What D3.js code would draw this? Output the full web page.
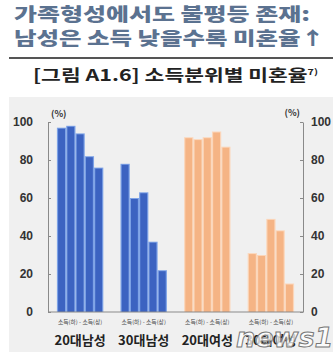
<!DOCTYPE html>
<html>
<head>
<meta charset="utf-8">
<script src="https://cdn.jsdelivr.net/npm/d3@7"></script>
<style>
  body { margin: 0; background: #fff; }
  svg { display: block; font-family: 'Noto Sans CJK KR', 'Noto Sans', sans-serif; }
</style>
</head>
<body>
<svg width="333" height="354"></svg>
<script>
// values
var groups = ['20대남성', '30대남성', '20대여성', '30대여성'];
var quintiles = ['q1', 'q2', 'q3', 'q4', 'q5'];
var men20 = [97, 98, 94, 82, 76];
var men30 = [78, 60, 63, 37, 22];
var women20 = [92, 91, 92, 95, 87];
var women30 = [31, 30, 49, 43, 15];
var yTicks = [0, 20, 40, 60, 80, 100];
var subLabel = '소득(하) - 소득(상)';

var series = [men20, men30, women20, women30];
var palette = {
    blue: '#3c63c1', blueEdge: '#7da2e6',
    orange: '#f5b485', orangeEdge: '#fbd6ba'
};

var svg = d3.select('svg');

// headline
svg.append('text')
    .attr('x', 14).attr('y', 21)
    .attr('textLength', 296).attr('lengthAdjust', 'spacingAndGlyphs')
    .style('font-size', '18px').style('font-weight', 900)
    .style('fill', '#5b7290')
    .text('가족형성에서도 불평등 존재:');
svg.append('text')
    .attr('x', 14).attr('y', 45)
    .attr('textLength', 311).attr('lengthAdjust', 'spacingAndGlyphs')
    .style('font-size', '18px').style('font-weight', 900)
    .style('fill', '#5b7290')
    .text('남성은 소득 낮을수록 미혼율↑');

svg.append('line')
    .attr('x1', 9).attr('x2', 333)
    .attr('y1', 58).attr('y2', 58)
    .style('stroke', '#555').style('stroke-width', 2);

var sub = svg.append('text')
    .attr('x', 33).attr('y', 81)
    .attr('textLength', 285).attr('lengthAdjust', 'spacingAndGlyphs')
    .style('font-size', '16px').style('font-weight', 'bold')
    .style('fill', '#222');
sub.append('tspan').text('[그림 A1.6] 소득분위별 미혼율');
sub.append('tspan').attr('dy', -6).style('font-size', '8px').text('7)');

// chart panel
svg.append('rect')
    .attr('x', 9).attr('y', 97)
    .attr('width', 324).attr('height', 255)
    .style('fill', '#f0f0f0');

var left = 48, right = 303;

var y = d3.scaleLinear()
    .domain([0, 100])
    .range([312, 122]);

var x = d3.scaleBand()
    .domain(groups)
    .range([left, right])
    .paddingInner(0.27)
    .paddingOuter(0.14);

var xInner = d3.scaleBand()
    .domain(quintiles)
    .range([0, x.bandwidth()]);

var g = svg.append('g');

groups.forEach(function(name, i) {
    var isMen = i < 2;
    var cell = g.append('g')
        .attr('transform', 'translate(' + x(name) + ',0)');

    var bars = cell.selectAll('g.bar')
        .data(series[i])
        .enter().append('g')
        .attr('class', 'bar');

    bars.append('rect')
        .attr('x', function(d, j) { return xInner(quintiles[j]); })
        .attr('y', function(d) { return y(d); })
        .attr('width', xInner.bandwidth())
        .attr('height', function(d) { return y(0) - y(d); })
        .style('fill', isMen ? palette.blueEdge : palette.orangeEdge);

    bars.append('rect')
        .attr('x', function(d, j) { return xInner(quintiles[j]) + 1.2; })
        .attr('y', function(d) { return y(d) + 1; })
        .attr('width', xInner.bandwidth() - 2.4)
        .attr('height', function(d) { return y(0) - y(d) - 1; })
        .style('fill', isMen ? palette.blue : palette.orange);

    cell.append('text')
        .attr('x', x.bandwidth() / 2).attr('y', 324)
        .attr('text-anchor', 'middle')
        .attr('textLength', x.bandwidth() - 2).attr('lengthAdjust', 'spacingAndGlyphs')
        .style('font-size', '5.5px').style('fill', '#444')
        .text(subLabel);

    cell.append('text')
        .attr('x', x.bandwidth() / 2).attr('y', 345)
        .attr('text-anchor', 'middle')
        .style('font-size', '13px').style('font-weight', 'bold')
        .style('fill', '#222')
        .text(name);
});

// axes
var leftAxis = d3.axisLeft(y)
    .tickValues(yTicks)
    .tickSizeInner(-3).tickSizeOuter(0)
    .tickPadding(15);
var rightAxis = d3.axisRight(y)
    .tickValues(yTicks)
    .tickSizeInner(-3).tickSizeOuter(0)
    .tickPadding(8);

[[leftAxis, left], [rightAxis, right]].forEach(function(a) {
    var ax = svg.append('g')
        .attr('transform', 'translate(' + a[1] + ',0)')
        .call(a[0]);
    ax.select('.domain').style('stroke', '#8a8a8a');
    ax.selectAll('.tick line').style('stroke', '#8a8a8a');
    ax.selectAll('.tick text')
        .style('font-family', "'Liberation Sans', Arial, sans-serif")
        .style('font-size', '12px').style('font-weight', 'bold')
        .style('fill', '#333');
});

svg.append('line')
    .attr('x1', left).attr('x2', right)
    .attr('y1', y(0)).attr('y2', y(0))
    .style('stroke', '#8a8a8a');

svg.append('text')
    .attr('x', 51).attr('y', 117)
    .style('font-size', '9px').style('font-weight', 'bold').style('fill', '#333')
    .text('(%)');
svg.append('text')
    .attr('x', 300).attr('y', 116)
    .attr('text-anchor', 'end')
    .style('font-size', '9px').style('font-weight', 'bold').style('fill', '#333')
    .text('(%)');

// watermark
svg.append('text')
    .attr('x', 236).attr('y', 347)
    .style('font-family', "'DejaVu Sans', sans-serif")
    .style('font-size', '27px').style('font-style', 'italic').style('font-weight', 'bold')
    .style('fill', 'rgba(255,255,255,0.75)')
    .style('stroke', '#777').style('stroke-width', 1)
    .text('news1');
</script>
</body>
</html>
